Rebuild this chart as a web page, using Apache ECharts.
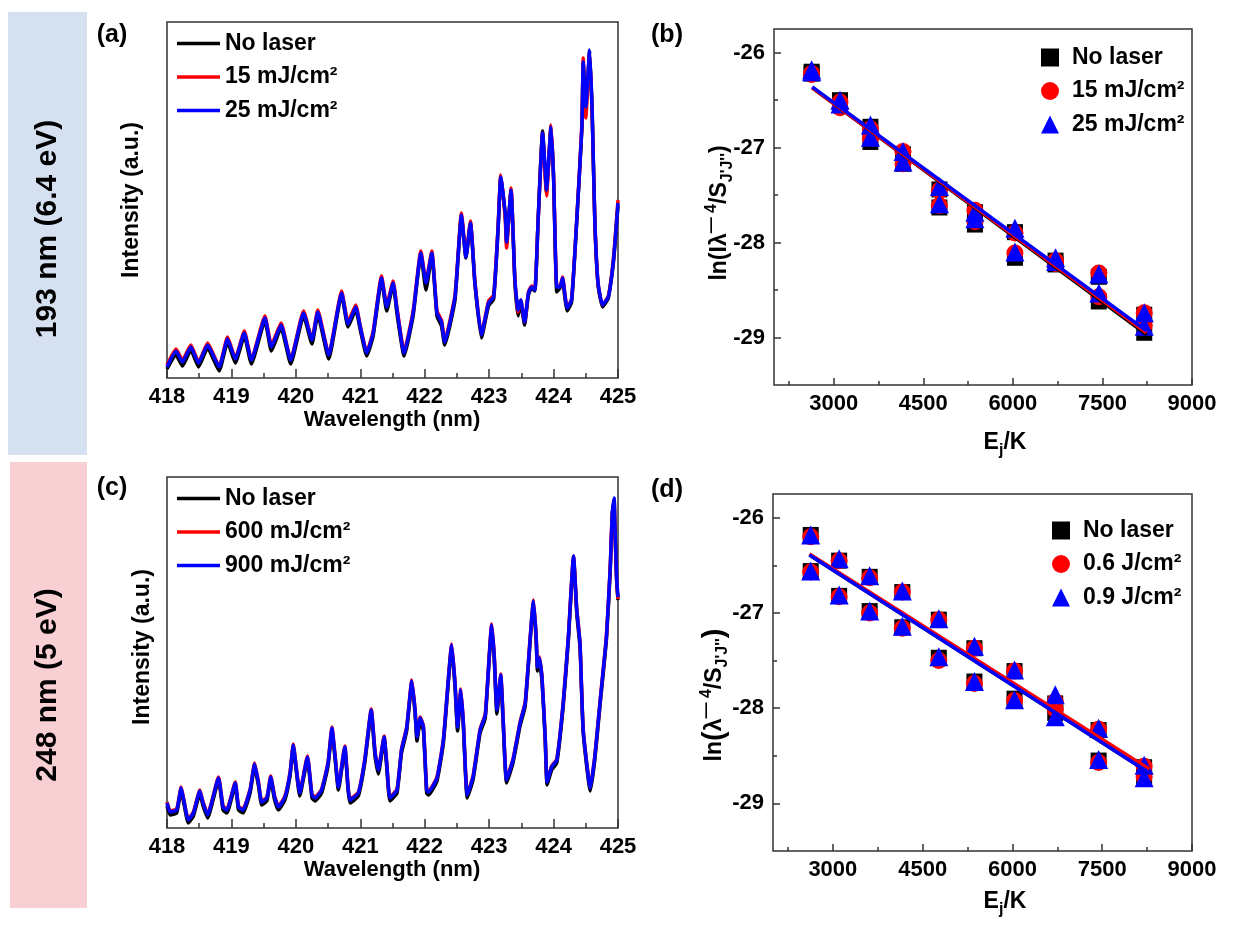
<!DOCTYPE html>
<html>
<head>
<meta charset="utf-8">
<script src="https://cdn.jsdelivr.net/npm/echarts@6/dist/echarts.min.js"></script>
<style>html,body{margin:0;padding:0;background:#fff;}#c{width:1260px;height:934px;}</style>
</head>
<body>
<div id="c"></div>
<script>
// ---------- Panel (a): 193 nm spectra ----------
const WL_A = [418.00,418.14,418.24,418.37,418.49,418.63,418.81,418.94,419.06,419.20,419.31,419.52,419.62,419.77,419.92,420.12,420.25,420.34,420.51,420.71,420.81,420.93,421.00,421.10,421.20,421.33,421.41,421.51,421.57,421.68,421.82,421.94,422.02,422.11,422.19,422.26,422.31,422.47,422.57,422.64,422.71,422.78,422.88,422.99,423.07,423.14,423.18,423.25,423.27,423.34,423.40,423.45,423.49,423.55,423.61,423.66,423.71,423.76,423.83,423.87,423.89,423.96,424.00,424.05,424.10,424.14,424.18,424.21,424.28,424.36,424.44,424.46,424.50,424.56,424.60,424.64,424.69,424.76,424.85,424.93,425.00];
const NOLASER_A = [9,23,12,28,11,30,7,36,15,42,14,57,27,50,14,62,34,63,19,83,51,68,48,22,42,98,67,93,64,22,62,123,88,123,62,52,33,78,162,120,154,93,40,72,79,150,200,163,134,187,95,62,75,53,83,90,87,157,247,206,186,250,199,86,90,98,78,67,76,157,250,314,268,327,263,156,93,71,80,116,172];
const F15_A = [13,29,18,33,16,35,12,41,20,47,19,62,33,55,19,67,39,68,24,87,56,73,52,26,47,102,73,97,70,27,67,127,97,127,67,58,38,83,165,123,157,96,44,77,83,153,203,160,130,190,98,66,78,56,86,92,89,158,245,200,182,253,203,92,92,101,82,71,79,159,254,320,260,326,262,158,95,73,82,120,178];
const F25_A = [11,27,16,31,15,33,11,39,19,45,18,60,31,53,18,65,38,66,23,85,54,71,51,25,45,100,71,95,68,25,65,125,95,125,65,56,36,81,163,121,155,95,43,75,81,151,201,165,136,188,98,68,78,56,85,91,88,158,245,208,188,251,201,91,91,100,81,70,78,158,251,316,271,328,265,158,95,73,81,118,175];

// ---------- Panel (c): 248 nm spectra ----------
const WL_C = [418.00,418.05,418.15,418.22,418.26,418.33,418.41,418.51,418.56,418.63,418.80,418.87,418.93,419.06,419.11,419.18,419.29,419.36,419.42,419.47,419.55,419.61,419.67,419.73,419.83,419.91,419.96,420.01,420.06,420.18,420.25,420.30,420.40,420.50,420.56,420.61,420.66,420.76,420.81,420.84,420.97,421.07,421.17,421.23,421.28,421.37,421.41,421.46,421.57,421.64,421.72,421.80,421.85,421.88,421.93,421.98,422.03,422.06,422.19,422.29,422.42,422.47,422.51,422.56,422.60,422.66,422.75,422.86,422.94,423.04,423.08,423.12,423.18,423.22,423.27,423.37,423.48,423.56,423.69,423.73,423.75,423.78,423.82,423.87,423.90,423.97,424.05,424.15,424.23,424.31,424.36,424.41,424.46,424.57,424.64,424.72,424.82,424.88,424.91,424.94,424.95,424.98,425.00];
const NOLASER_C = [22,13,15,37,25,5,12,34,22,10,47,18,15,42,18,15,35,61,42,23,27,48,28,18,28,52,80,55,32,68,30,27,35,62,97,68,38,78,38,25,32,65,115,71,54,88,61,27,35,75,97,144,115,87,106,97,35,33,47,85,180,141,97,134,101,30,48,95,110,200,167,114,149,101,45,65,102,122,224,187,157,166,147,88,43,58,65,122,188,269,214,181,95,37,68,122,188,258,312,327,305,245,228];
const F600_C = [26,17,19,41,29,9,16,38,26,14,51,22,19,46,22,19,39,65,46,27,31,52,32,22,32,56,84,59,36,72,34,31,39,66,101,72,42,82,42,29,36,69,119,76,59,92,66,31,39,79,101,148,119,92,111,102,39,37,51,89,184,146,102,139,106,34,52,99,114,204,172,119,154,106,49,69,106,126,228,192,162,171,152,92,47,62,69,126,192,272,219,186,99,41,72,126,192,262,314,328,306,246,229];
const F900_C = [25,16,18,40,28,8,15,37,25,13,50,21,18,45,21,18,38,64,45,26,30,51,31,21,31,55,83,58,35,71,33,30,38,65,100,71,41,81,41,28,35,68,118,75,58,91,65,30,38,78,100,147,118,91,110,101,38,36,50,88,183,145,101,138,105,33,51,98,113,203,171,118,153,105,48,68,105,125,227,191,161,170,151,91,46,61,68,125,191,272,218,185,98,40,71,125,191,261,315,330,308,248,231];

// ---------- Panel (b): Boltzmann plot, 193 nm ----------
const EJ = [2630,2630,3105,3105,3615,3615,4160,4160,4770,4770,5365,5365,6035,6035,6715,6715,7440,7440,8200,8200];
const NOLASER_B = [-26.20,-26.22,-26.50,-26.55,-26.78,-26.94,-27.07,-27.17,-27.44,-27.63,-27.68,-27.81,-27.89,-28.16,-28.19,-28.23,-28.36,-28.62,-28.76,-28.95];
const F15_B = [-26.22,-26.23,-26.52,-26.58,-26.80,-26.90,-27.04,-27.17,-27.45,-27.61,-27.66,-27.78,-27.90,-28.11,-28.19,-28.22,-28.32,-28.57,-28.74,-28.87];
const F25_B = [-26.18,-26.20,-26.50,-26.54,-26.76,-26.89,-27.04,-27.15,-27.41,-27.59,-27.68,-27.75,-27.85,-28.10,-28.16,-28.20,-28.33,-28.53,-28.74,-28.88];
const FITX_B = [2640, 8240];
const FIT_NOLASER_B = [-26.37, -28.97];
const FIT_F15_B = [-26.37, -28.95];
const FIT_F25_B = [-26.36, -28.93];

// ---------- Panel (d): Boltzmann plot, 248 nm ----------
const NOLASER_D = [-26.18,-26.56,-26.45,-26.82,-26.62,-26.98,-26.78,-27.15,-27.07,-27.47,-27.37,-27.72,-27.61,-27.90,-27.95,-28.05,-28.23,-28.55,-28.62,-28.72];
const F06_D = [-26.20,-26.57,-26.45,-26.83,-26.63,-27.00,-26.78,-27.16,-27.07,-27.50,-27.37,-27.74,-27.61,-27.92,-27.93,-28.01,-28.22,-28.57,-28.61,-28.72];
const F09_D = [-26.18,-26.56,-26.43,-26.81,-26.61,-26.98,-26.77,-27.14,-27.06,-27.46,-27.35,-27.72,-27.60,-27.91,-27.86,-28.09,-28.21,-28.54,-28.60,-28.73];
const FITX_D = [2610, 8290];
const FIT_NOLASER_D = [-26.39, -28.68];
const FIT_F06_D = [-26.38, -28.64];
const FIT_F09_D = [-26.39, -28.68];

// ---------- ticks / labels ----------
const EJ_MAJOR = [3000,4500,6000,7500,9000];
const EJ_MINOR = [2250,3750,5250,6750,8250];
const LN_MAJOR = [-29,-28,-27,-26];
const LN_MINOR = [-28.5,-27.5,-26.5];
const NAMES = {
  a0:'No laser', a1:'15 mJ/cm\u00B2', a2:'25 mJ/cm\u00B2',
  c0:'No laser', c1:'600 mJ/cm\u00B2', c2:'900 mJ/cm\u00B2',
  b0:'No laser', b1:'15 mJ/cm\u00B2', b2:'25 mJ/cm\u00B2',
  d0:'No laser', d1:'0.6 J/cm\u00B2', d2:'0.9 J/cm\u00B2'
};

const FONT = "'Liberation Sans', Arial, Helvetica, sans-serif";
const BLACK = '#000000', RED = '#ff0000', BLUE = '#0000ff';
const AX = '#333333';

const pair = (xs, ys) => xs.map((x, i) => [x, ys[i]]);
const plain = v => String(v);

function wlAxis(gi) {
  return {
    type: 'value', gridIndex: gi, min: 418, max: 425, interval: 1,
    axisLine: {show: false},
    axisTick: {show: true, inside: true, length: 9, lineStyle: {color: AX, width: 1.5}},
    minorTick: {show: true, splitNumber: 2, length: 5, lineStyle: {color: AX, width: 1.5}},
    splitLine: {show: false}, minorSplitLine: {show: false},
    axisLabel: {fontSize: 22, fontWeight: 'bold', color: '#000', fontFamily: FONT, margin: 8, formatter: plain}
  };
}
function intAxis(gi, max) {
  return {
    type: 'value', gridIndex: gi, min: 0, max: max,
    axisLine: {show: false}, axisTick: {show: false}, axisLabel: {show: false}, splitLine: {show: false}
  };
}
function ejAxes(gi) {
  return [{
    type: 'value', gridIndex: gi, min: 2000, max: 9000,
    axisLine: {show: false},
    axisTick: {show: true, inside: true, length: 7, customValues: EJ_MAJOR, lineStyle: {color: AX, width: 1.5}},
    axisLabel: {customValues: EJ_MAJOR, fontSize: 22, fontWeight: 'bold', color: '#000', fontFamily: FONT, margin: 8, formatter: plain},
    splitLine: {show: false}
  }, {
    type: 'value', gridIndex: gi, min: 2000, max: 9000, position: 'bottom',
    axisLine: {show: false},
    axisTick: {show: true, inside: true, length: 4, customValues: EJ_MINOR, lineStyle: {color: AX, width: 1.5}},
    axisLabel: {show: false}, splitLine: {show: false}
  }];
}
function lnAxes(gi) {
  return [{
    type: 'value', gridIndex: gi, min: -29.5, max: -25.75,
    axisLine: {show: false},
    axisTick: {show: true, inside: true, length: 7, customValues: LN_MAJOR, lineStyle: {color: AX, width: 1.5}},
    axisLabel: {customValues: LN_MAJOR, fontSize: 22, fontWeight: 'bold', color: '#000', fontFamily: FONT, margin: 9, formatter: plain},
    splitLine: {show: false}
  }, {
    type: 'value', gridIndex: gi, min: -29.5, max: -25.75, position: 'left',
    axisLine: {show: false},
    axisTick: {show: true, inside: true, length: 4, customValues: LN_MINOR, lineStyle: {color: AX, width: 1.5}},
    axisLabel: {show: false}, splitLine: {show: false}
  }];
}
function lineSeries(name, xi, yi, xs, ys, color) {
  return {type: 'line', name: name, xAxisIndex: xi, yAxisIndex: yi, data: pair(xs, ys),
    symbol: 'none', smooth: 0.15, lineStyle: {color: color, width: 3.5}, itemStyle: {color: color}, z: 3};
}
function scatterSeries(name, xi, yi, ys, color, symbol, size) {
  return {type: 'scatter', name: name, xAxisIndex: xi, yAxisIndex: yi, data: pair(EJ, ys),
    symbol: symbol, symbolSize: size, itemStyle: {color: color, opacity: 1}, z: 3};
}
function fitSeries(name, xi, yi, xs, ys, color) {
  return {type: 'line', name: name, xAxisIndex: xi, yAxisIndex: yi, data: pair(xs, ys),
    symbol: 'none', lineStyle: {color: color, width: 3.5}, z: 4, silent: true};
}
function legendLines(left, top, names) {
  return {
    orient: 'vertical', left: left, top: top, itemWidth: 43, itemHeight: 3.5, itemGap: 10.5,
    data: names.map(n => ({name: n, icon: 'rect'})), selectedMode: false,
    formatter: n => NAMES[n],
    textStyle: {fontSize: 23, fontWeight: 'bold', color: '#000', fontFamily: FONT, lineHeight: 22}
  };
}
function legendSyms(left, top, names) {
  const icons = ['rect', 'circle', 'triangle'];
  return {
    orient: 'vertical', left: left, top: top, itemWidth: 18, itemHeight: 18, itemGap: 10.5,
    data: names.map((n, i) => ({name: n, icon: icons[i]})), selectedMode: false,
    formatter: n => NAMES[n],
    textStyle: {fontSize: 23, fontWeight: 'bold', color: '#000', fontFamily: FONT, lineHeight: 22, padding: [0, 0, 0, 8]}
  };
}

const RICH = {
  n: {fontSize: 23, fontWeight: 'bold', fontFamily: FONT, lineHeight: 32, verticalAlign: 'middle', fill: '#000', color: '#000'},
  big: {fontSize: 29, fontWeight: 'bold', fontFamily: FONT, lineHeight: 32, verticalAlign: 'middle', fill: '#000', color: '#000'},
  sb: {fontSize: 16, fontWeight: 'bold', fontFamily: FONT, lineHeight: 16, verticalAlign: 'bottom', fill: '#000', color: '#000'},
  sp: {fontSize: 16, fontWeight: 'bold', fontFamily: FONT, lineHeight: 16, verticalAlign: 'top', fill: '#000', color: '#000'}
};
function txt(x, y, text, size, rot, rich) {
  const st = {text: text, fontSize: size, fontWeight: 'bold', fontFamily: FONT, fill: '#000',
    align: 'center', verticalAlign: 'middle', textAlign: 'center', textVerticalAlign: 'middle'};
  if (rich) st.rich = RICH;
  return {type: 'text', x: x, y: y, rotation: rot ? Math.PI / 2 : 0, style: st, z: 10};
}

const option = {
  animation: false,
  backgroundColor: '#ffffff',
  textStyle: {fontFamily: FONT},
  grid: [
    {left: 167, top: 22, width: 451, height: 356, show: true, borderColor: AX, borderWidth: 1.5, backgroundColor: 'transparent'},
    {left: 774, top: 29, width: 418, height: 356, show: true, borderColor: AX, borderWidth: 1.5, backgroundColor: 'transparent'},
    {left: 167, top: 477, width: 451, height: 351, show: true, borderColor: AX, borderWidth: 1.5, backgroundColor: 'transparent'},
    {left: 773, top: 494, width: 419, height: 357, show: true, borderColor: AX, borderWidth: 1.5, backgroundColor: 'transparent'}
  ],
  xAxis: [wlAxis(0)].concat(ejAxes(1), [wlAxis(2)], ejAxes(3)),
  yAxis: [intAxis(0, 356)].concat(lnAxes(1), [intAxis(2, 351)], lnAxes(3)),
  legend: [
    legendLines(172, 27, ['a0', 'a1', 'a2']),
    legendSyms(1036, 41, ['b0', 'b1', 'b2']),
    legendLines(172, 482, ['c0', 'c1', 'c2']),
    legendSyms(1047, 514, ['d0', 'd1', 'd2'])
  ],
  series: [
    lineSeries('a0', 0, 0, WL_A, NOLASER_A, BLACK),
    lineSeries('a1', 0, 0, WL_A, F15_A, RED),
    lineSeries('a2', 0, 0, WL_A, F25_A, BLUE),
    lineSeries('c0', 3, 3, WL_C, NOLASER_C, BLACK),
    lineSeries('c1', 3, 3, WL_C, F600_C, RED),
    lineSeries('c2', 3, 3, WL_C, F900_C, BLUE),
    scatterSeries('b0', 1, 1, NOLASER_B, BLACK, 'rect', 16),
    scatterSeries('b1', 1, 1, F15_B, RED, 'circle', 17),
    scatterSeries('b2', 1, 1, F25_B, BLUE, 'triangle', 19),
    fitSeries('fb0', 1, 1, FITX_B, FIT_NOLASER_B, BLACK),
    fitSeries('fb1', 1, 1, FITX_B, FIT_F15_B, RED),
    fitSeries('fb2', 1, 1, FITX_B, FIT_F25_B, BLUE),
    scatterSeries('d0', 4, 4, NOLASER_D, BLACK, 'rect', 16),
    scatterSeries('d1', 4, 4, F06_D, RED, 'circle', 17),
    scatterSeries('d2', 4, 4, F09_D, BLUE, 'triangle', 19),
    fitSeries('fd0', 4, 4, FITX_D, FIT_NOLASER_D, BLACK),
    fitSeries('fd1', 4, 4, FITX_D, FIT_F06_D, RED),
    fitSeries('fd2', 4, 4, FITX_D, FIT_F09_D, BLUE)
  ],
  graphic: {elements: [
    {type: 'rect', shape: {x: 8, y: 12, width: 79, height: 443}, style: {fill: '#d5e0f0'}, z: 0},
    {type: 'rect', shape: {x: 10, y: 462, width: 77, height: 446}, style: {fill: '#f8d0d3'}, z: 0},
    txt(48, 229, '193 nm (6.4 eV)', 30, true),
    txt(48, 685, '248 nm (5 eV)', 30, true),
    txt(112, 35, '(a)', 25, false),
    txt(667, 35, '(b)', 25, false),
    txt(112, 488, '(c)', 25, false),
    txt(667, 490, '(d)', 25, false),
    txt(392, 420, 'Wavelength (nm)', 22, false),
    txt(392, 870, 'Wavelength (nm)', 22, false),
    txt(132, 200, 'Intensity (a.u.)', 23, true),
    txt(143, 647, 'Intensity (a.u.)', 23, true),
    txt(1005, 443, '{n|E}{sb|j}{n|/K}', 23, false, true),
    txt(1005, 902, '{n|E}{sb|j}{n|/K}', 23, false, true),
    txt(720, 213, "{n|ln(I\u03BB}{sp|\u2014 4}{n|/S}{sb|J'J''}{n|)}", 23, true, true),
    txt(715, 695, "{n|ln}{big|(}{n|\u03BB}{sp|\u2014 4}{n|/S}{sb|J'J''}{big|)}", 23, true, true)
  ]}
};

const chart = echarts.init(document.getElementById('c'), null, {renderer: 'canvas', width: 1260, height: 934});
chart.setOption(option);
</script>
</body>
</html>
